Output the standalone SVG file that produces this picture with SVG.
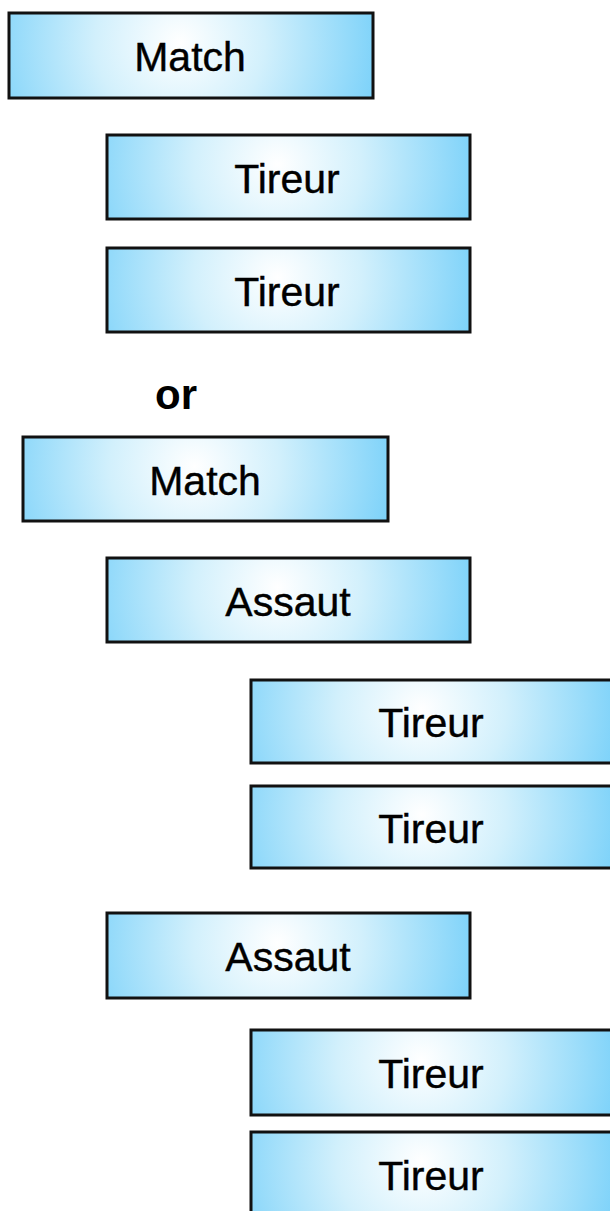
<svg xmlns="http://www.w3.org/2000/svg" width="610" height="1211" viewBox="0 0 610 1211">
<defs>
<radialGradient id="g" cx="0.47" cy="0.35" r="0.58" fx="0.47" fy="0.35" gradientTransform="translate(0.47 0.35) scale(1 4.3) translate(-0.47 -0.35)">
<stop offset="0" stop-color="#ffffff"/>
<stop offset="0.4" stop-color="#d2f0fc"/>
<stop offset="1" stop-color="#74cff9"/>
</radialGradient>
<style>
.box{fill:url(#g);stroke:#111;stroke-width:3}
.lbl{font-family:"Liberation Sans",Arial,sans-serif;font-size:41px;fill:#000;stroke:#000;stroke-width:0.4;text-anchor:middle}
.or{font-family:"Liberation Sans",Arial,sans-serif;font-size:42px;font-weight:bold;fill:#000}
</style>
</defs>
<g id="connectors"></g>
<g id="match1"><rect class="box" x="9" y="13" width="364" height="85"/><text class="lbl" x="190" y="71">Match</text></g>
<g id="tireur1"><rect class="box" x="107" y="135" width="363" height="84"/><text class="lbl" x="287" y="193">Tireur</text></g>
<g id="tireur2"><rect class="box" x="107" y="248" width="363" height="84"/><text class="lbl" x="287" y="306">Tireur</text></g>
<text id="or" class="or" x="155" y="409">or</text>
<g id="match2"><rect class="box" x="23" y="437" width="365" height="84"/><text class="lbl" x="205" y="495">Match</text></g>
<g id="assaut1"><rect class="box" x="107" y="558" width="363" height="84"/><text class="lbl" x="288" y="616">Assaut</text></g>
<g id="tireur3"><rect class="box" x="251" y="680" width="363" height="83"/><text class="lbl" x="431" y="737">Tireur</text></g>
<g id="tireur4"><rect class="box" x="251" y="786" width="363" height="82"/><text class="lbl" x="431" y="843">Tireur</text></g>
<g id="assaut2"><rect class="box" x="107" y="913" width="363" height="85"/><text class="lbl" x="288" y="971">Assaut</text></g>
<g id="tireur5"><rect class="box" x="251" y="1030" width="363" height="85"/><text class="lbl" x="431" y="1088">Tireur</text></g>
<g id="tireur6"><rect class="box" x="251" y="1132" width="363" height="85"/><text class="lbl" x="431" y="1190">Tireur</text></g>
</svg>
